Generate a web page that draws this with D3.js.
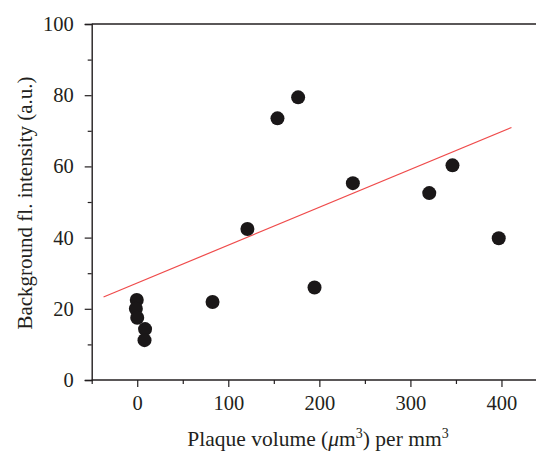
<!DOCTYPE html>
<html><head><meta charset="utf-8">
<script src="https://cdn.jsdelivr.net/npm/d3@7"></script>
<style>html,body{margin:0;padding:0;background:#fff;overflow:hidden}</style>
</head><body>
<svg id="c" width="536" height="454"></svg>
<script>
const plaqueVolume = [-0.5, -1.5, 0, 8.6, 8, 82.7, 121, 154, 176.7, 194.7, 236.8, 320.7, 346.2, 397];
const intensity    = [22.5, 20, 17.5, 14.3, 11.2, 21.9, 42.4, 73.5, 79.4, 26, 55.3, 52.5, 60.3, 39.8];
const fitX = [-37, 411];
const fitIntercept = 27.25;
const fitSlope = 0.1063;
const xTicks = [0, 100, 200, 300, 400];
const xMinor = [-50, 50, 150, 250, 350, 450];
const yTicks = [0, 20, 40, 60, 80, 100];
const yMinor = [10, 30, 50, 70, 90];

const svg = d3.select("#c");
const font = "'Liberation Serif', 'DejaVu Serif', serif";
const x = d3.scaleLinear().domain([-50, 450]).range([91.7, 547]);
const y = d3.scaleLinear().domain([0, 100]).range([380, 24]);
const ink = "#231f20";

svg.append("line").attr("x1", x(-50)).attr("x2", 560).attr("y1", y(100)).attr("y2", y(100))
  .attr("stroke", ink).attr("stroke-width", 1.4);

const gx = svg.append("g").attr("transform", `translate(0,${y(0)})`)
  .call(d3.axisBottom(x).tickValues(xTicks).tickSize(7).tickPadding(8).tickFormat(d3.format("d")));
const gxm = svg.append("g").attr("transform", `translate(0,${y(0)})`)
  .call(d3.axisBottom(x).tickValues(xMinor).tickSize(4).tickFormat(""));
const gy = svg.append("g").attr("transform", `translate(${x(-50)},0)`)
  .call(d3.axisLeft(y).tickValues(yTicks).tickSize(7).tickPadding(11).tickFormat(d3.format("d")));
const gym = svg.append("g").attr("transform", `translate(${x(-50)},0)`)
  .call(d3.axisLeft(y).tickValues(yMinor).tickSize(4).tickFormat(""));

[gx, gxm, gy, gym].forEach(g => {
  g.selectAll("path.domain").attr("stroke", ink).attr("stroke-width", 1.4);
  g.selectAll(".tick line").attr("stroke", ink).attr("stroke-width", 1.2);
  g.selectAll("text").attr("fill", ink).style("font-family", font).style("font-size", "20.5px");
});
gx.select("path.domain").attr("d", `M${x(-50)},0H560`);
gxm.select("path.domain").remove();
gym.select("path.domain").remove();

svg.append("line")
  .attr("x1", x(fitX[0])).attr("y1", y(fitIntercept + fitSlope * fitX[0]))
  .attr("x2", x(fitX[1])).attr("y2", y(fitIntercept + fitSlope * fitX[1]))
  .attr("stroke", "#ef4b4b").attr("stroke-width", 1.2);

svg.append("g").selectAll("circle").data(plaqueVolume.map((v, i) => [v, intensity[i]]))
  .join("circle").attr("cx", d => x(d[0])).attr("cy", d => y(d[1])).attr("r", 7)
  .attr("fill", "#1a1718");

const xt = svg.append("text").attr("x", 318).attr("y", 446).attr("text-anchor", "middle")
  .attr("fill", ink).style("font-family", font).style("font-size", "21.5px");
xt.append("tspan").text("Plaque volume (");
xt.append("tspan").attr("font-style", "italic").text("μ");
xt.append("tspan").text("m");
xt.append("tspan").attr("dy", -8).style("font-size", "14px").text("3");
xt.append("tspan").attr("dy", 8).text(") per mm");
xt.append("tspan").attr("dy", -8).style("font-size", "14px").text("3");

svg.append("text").attr("transform", "translate(32,203) rotate(-90)").attr("text-anchor", "middle")
  .attr("fill", ink).style("font-family", font).style("font-size", "21px")
  .text("Background fl. intensity (a.u.)");
</script>
</body></html>
